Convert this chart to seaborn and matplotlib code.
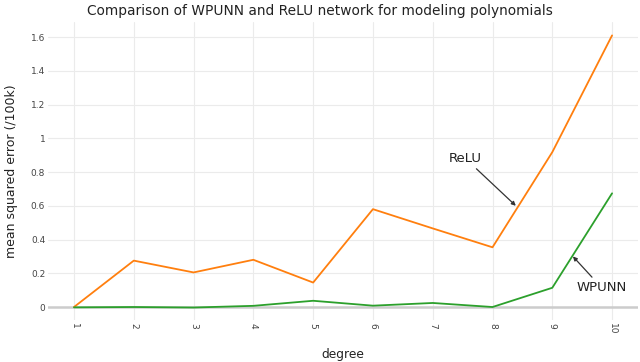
import matplotlib
matplotlib.use("Agg")
import matplotlib.pyplot as plt
import seaborn as sns
import pandas as pd

degrees = [1, 2, 3, 4, 5, 6, 7, 8, 9, 10]
relu = [0.0, 0.275, 0.205, 0.28, 0.145, 0.58, 0.466, 0.354, 0.918, 1.61]
wpunn = [-0.002, 0.0, -0.003, 0.007, 0.037, 0.008, 0.024, 0.0, 0.114, 0.674]
y_ticks = [0, 0.2, 0.4, 0.6, 0.8, 1, 1.2, 1.4, 1.6]
y_tick_labels = ["0", "0.2", "0.4", "0.6", "0.8", "1", "1.2", "1.4", "1.6"]

df = pd.DataFrame({
    "degree": degrees * 2,
    "mse": relu + wpunn,
    "net": ["ReLU"] * len(degrees) + ["WPUNN"] * len(degrees),
})

sns.set_theme(style="white")
plt.rcParams["font.family"] = ["DejaVu Sans"]

fig = plt.figure(figsize=(6.4, 3.62), dpi=100)
ax = fig.add_axes([0.075, 0.116, 0.922, 0.823])

sns.lineplot(data=df, x="degree", y="mse", hue="net",
             palette={"ReLU": "#ff7f0e", "WPUNN": "#2ca02c"},
             linewidth=1.3, legend=False, ax=ax, zorder=3)

ax.set_xlim(0.565, 10.435)
ax.set_ylim(-0.077, 1.689)
ax.set_xticks(degrees)
ax.set_xticklabels([str(d) for d in degrees], rotation=-90, fontsize=6.5, color="#444444")
ax.set_yticks(y_ticks)
ax.set_yticklabels(y_tick_labels, fontsize=6.5, color="#444444")
ax.tick_params(axis="both", length=0)
ax.tick_params(axis="y", pad=2)
ax.tick_params(axis="x", pad=2.5)
ax.grid(True, color="#ebebeb", linewidth=0.8)
ax.axhline(0, color="#cccccc", linewidth=1.8, zorder=1)
for s in ax.spines.values():
    s.set_visible(False)

ax.set_xlabel("degree", fontsize=8.8, color="#222222")
ax.set_ylabel("mean squared error (/100k)", fontsize=9, color="#222222")
ax.xaxis.set_label_coords(0.5, -0.093)
ax.yaxis.set_label_coords(-0.05, 0.5)
fig.suptitle("Comparison of WPUNN and ReLU network for modeling polynomials",
             fontsize=9.9, color="#222222", y=0.99)

ax.annotate("ReLU", xy=(8.39, 0.6), xytext=(7.54, 0.883),
            fontsize=9.5, color="#222222", ha="center", va="center",
            arrowprops=dict(arrowstyle="-|>", color="#333333", lw=0.9,
                            shrinkA=1, shrinkB=0, mutation_scale=6))
ax.annotate("WPUNN", xy=(9.345, 0.30), xytext=(9.83, 0.113),
            fontsize=9.5, color="#222222", ha="center", va="center",
            arrowprops=dict(arrowstyle="-|>", color="#333333", lw=0.9,
                            shrinkA=1, shrinkB=0, mutation_scale=6))

fig.savefig("out.png", dpi=100)
